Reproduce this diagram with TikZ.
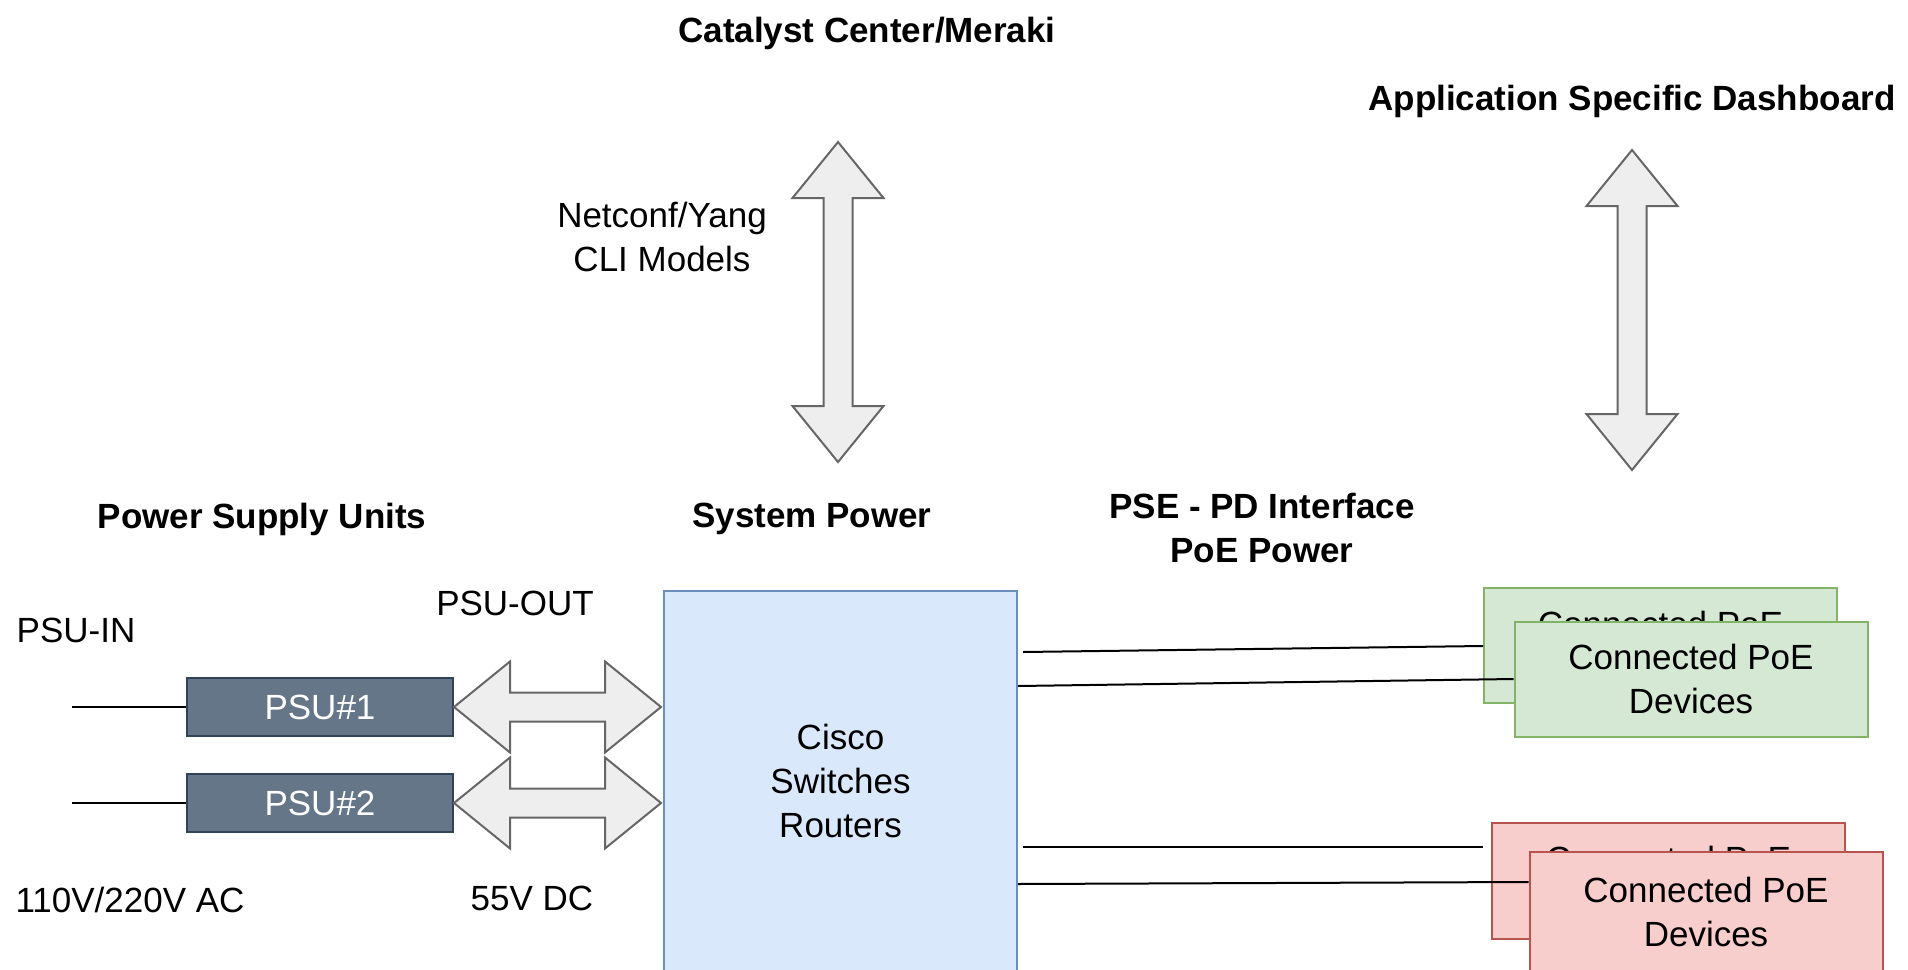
\documentclass[tikz,border=0pt]{standalone}
\usepackage{fontspec}
\setmainfont{Liberation Sans}
\usepackage{tikz}
\usetikzlibrary{calc}
\usetikzlibrary{positioning}
\definecolor{psufill}{HTML}{647687}
\definecolor{psuedge}{HTML}{314354}
\definecolor{sysfill}{HTML}{DAE8FC}
\definecolor{sysedge}{HTML}{6C8EBF}
\definecolor{poegreen}{HTML}{D5E8D4}
\definecolor{poegreenedge}{HTML}{82B366}
\definecolor{poered}{HTML}{F8CECC}
\definecolor{poerededge}{HTML}{B85450}
\definecolor{arrfill}{HTML}{EEEEEE}
\definecolor{arredge}{HTML}{666666}
\newlength{\pxu}
\setlength{\pxu}{0.5pt}
\newlength{\arrhead}
\setlength{\arrhead}{28pt}
\newlength{\arrhalf}
\setlength{\arrhalf}{22.75pt}
\newlength{\arrshaft}
\setlength{\arrshaft}{7.25pt}
\tikzstyle{txt}=[font=\fontsize{17.5}{22}\selectfont, inner sep=0pt, align=center]
\tikzstyle{title}=[font=\fontsize{17.5}{22}\selectfont\bfseries, inner sep=0pt, align=center]
\tikzstyle{boxstyle}=[rectangle, draw, line width=1pt, inner sep=0pt, align=center, font=\fontsize{17.5}{22}\selectfont]
\tikzstyle{psubox}=[boxstyle, fill=psufill, draw=psuedge, text=white, minimum width=266\pxu, minimum height=58\pxu]
\tikzstyle{sysbox}=[boxstyle, fill=sysfill, draw=sysedge, minimum width=353\pxu, minimum height=380\pxu]
\tikzstyle{gbox}=[boxstyle, fill=poegreen, draw=poegreenedge, minimum width=353\pxu, minimum height=115\pxu]
\tikzstyle{rbox}=[boxstyle, fill=poered, draw=poerededge, minimum width=353\pxu, minimum height=116\pxu]
\tikzstyle{fatarrow}=[draw=arredge, fill=arrfill, line width=1pt, line join=miter]
\tikzstyle{feed}=[draw, line width=0.75pt]
\tikzstyle{link}=[draw, line width=1pt]
\newcommand{\hfatarrow}[2]{\path[fatarrow] let \p1=(#1), \p2=(#2) in
  (\x1,\y1) -- (\x1+\arrhead,\y1+\arrhalf) -- (\x1+\arrhead,\y1+\arrshaft) -- (\x2-\arrhead,\y1+\arrshaft)
  -- (\x2-\arrhead,\y1+\arrhalf) -- (\x2,\y1) -- (\x2-\arrhead,\y1-\arrhalf) -- (\x2-\arrhead,\y1-\arrshaft)
  -- (\x1+\arrhead,\y1-\arrshaft) -- (\x1+\arrhead,\y1-\arrhalf) -- cycle;}
\newcommand{\vfatarrow}[2]{\path[fatarrow] let \p1=(#1), \p2=(#2) in
  (\x1,\y1) -- (\x1+\arrhalf,\y1-\arrhead) -- (\x1+\arrshaft,\y1-\arrhead) -- (\x1+\arrshaft,\y2+\arrhead)
  -- (\x1+\arrhalf,\y2+\arrhead) -- (\x1,\y2) -- (\x1-\arrhalf,\y2+\arrhead) -- (\x1-\arrshaft,\y2+\arrhead)
  -- (\x1-\arrshaft,\y1-\arrhead) -- (\x1-\arrhalf,\y1-\arrhead) -- cycle;}

\begin{document}
\begin{tikzpicture}[x=0.5pt, y=-0.5pt]
\useasboundingbox (0,0) rectangle (1908,970);
\node[title] (cc) at (867,33) {Catalyst Center/Meraki};
\node[title] (asd) at (1632,101) {Application Specific Dashboard};
\node[txt] (nc) at (662,237) {Netconf/Yang\\CLI Models};
\node[title] (psuhead) at (262,519) {Power Supply Units};
\node[title] (syshead) at (812,519) {System Power};
\node[title] (psehead) at (1262,528) {PSE - PD Interface\\PoE Power};
\node[txt] (psuin) at (76,630) {PSU-IN};
\node[txt] (psuout) at (515,603) {PSU-OUT};
\node[txt] (ac) at (130,900) {110V/220V AC};
\node[txt] (dc) at (532,898) {55V DC};

\node[sysbox] (sys) at (840.5,781) {Cisco\\Switches\\Routers};
\node[psubox] (psu1) at (320,707) {PSU\#1};
\node[psubox, below=36\pxu of psu1] (psu2) {PSU\#2};
\node[gbox] (gback) at (1660.5,645.5) {Connected PoE\\Devices};
\node[gbox] (gfront) at ([xshift=30.5\pxu,yshift=-33.5\pxu]gback) {Connected PoE\\Devices};
\node[rbox] (rback) at (1668.5,881) {Connected PoE\\Devices};
\node[rbox, minimum height=120\pxu] (rfront) at (1706,912) {Connected PoE\\Devices};

\coordinate (nctop) at (838,142);
\coordinate (ncbot) at (838,462);
\coordinate (asdtop) at (1632,150);
\coordinate (asdbot) at (1632,470);
\coordinate (in1) at ([xshift=-114\pxu]psu1.west);
\coordinate (in2) at ([xshift=-114\pxu]psu2.west);

\vfatarrow{nctop}{ncbot}
\vfatarrow{asdtop}{asdbot}
\hfatarrow{psu1.east}{[xshift=-2\pxu]sys.west |- psu1.east}
\hfatarrow{psu2.east}{[xshift=-2\pxu]sys.west |- psu2.east}

\draw [feed] (in1) -- (psu1.west);
\draw [feed] (in2) -- (psu2.west);
\draw [link] ([xshift=5\pxu,yshift=-62\pxu]sys.north east) -- ([yshift=-59\pxu]gback.north west);
\draw [link] ([yshift=-96\pxu]sys.north east) -- (gfront.west);
\draw [link] ([xshift=5\pxu,yshift=-257\pxu]sys.north east) -- ([xshift=-8\pxu,yshift=-25\pxu]rback.north west);
\draw [link] ([yshift=-294\pxu]sys.north east) -- ([yshift=-31\pxu]rfront.north west);
\end{tikzpicture}
\end{document}
